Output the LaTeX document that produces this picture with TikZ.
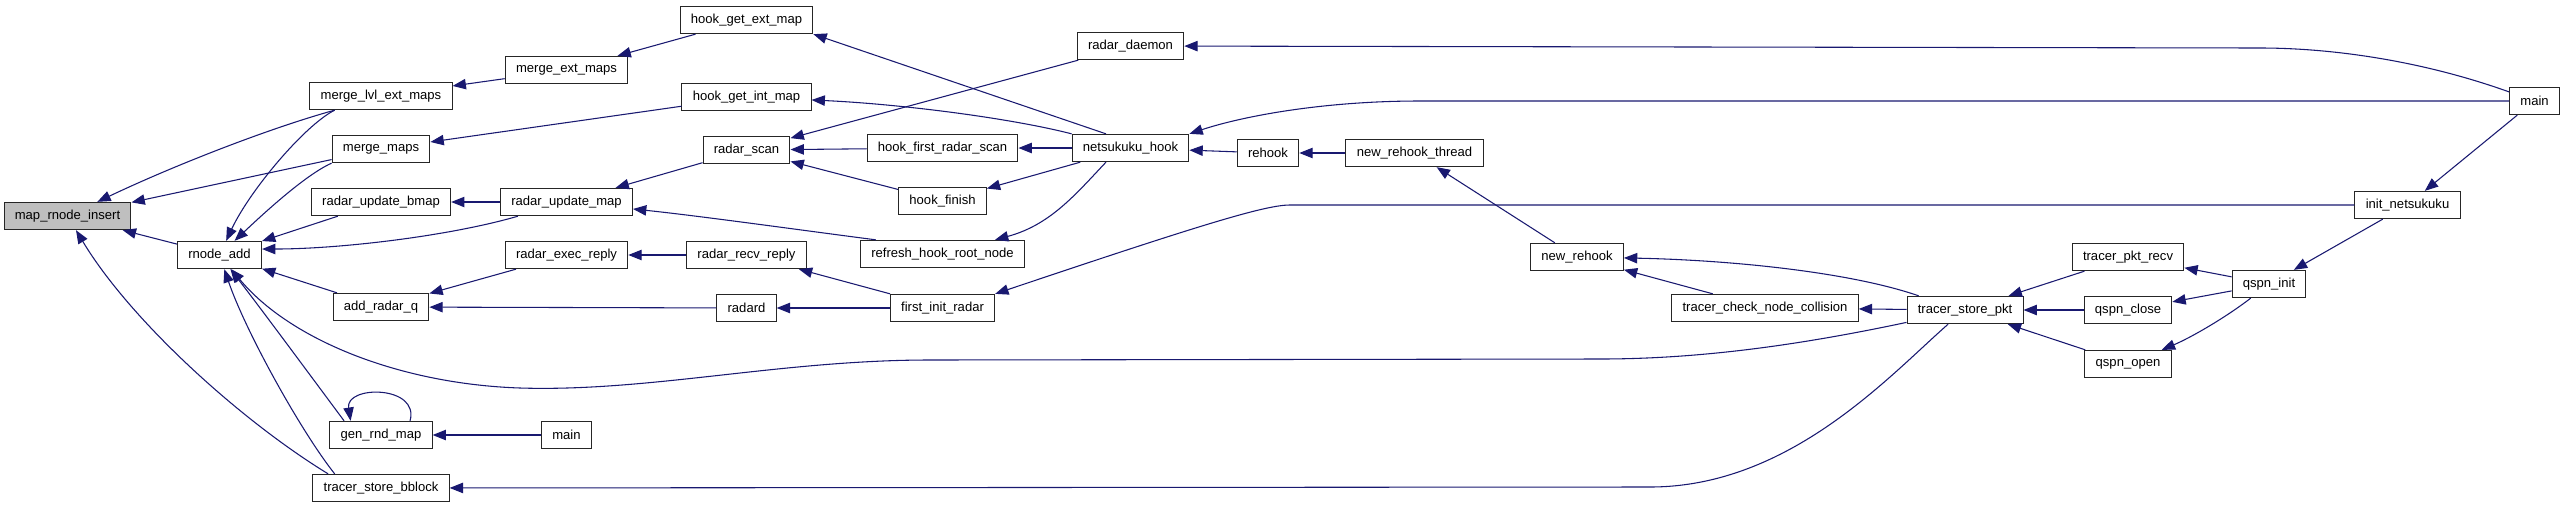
\documentclass[tikz,border=0pt]{standalone}
\usepackage{fontspec}
\setmainfont{Liberation Sans}
\usetikzlibrary{arrows.meta}
\definecolor{callblue}{RGB}{25,25,112}

\begin{document}
\begin{tikzpicture}[x=0.75pt, y=-0.75pt,
 fn/.style={draw=black!85, fill=white, line width=0.75pt, minimum height=20.5pt, inner xsep=8.1pt, inner ysep=0pt, font=\fontsize{9.8}{11}\selectfont},
 call/.style={draw=callblue, line width=0.8pt, -{Triangle[length=10pt, width=7.8pt]}}]
 \useasboundingbox (0,0) rectangle (2565,508);
 \node[fn, fill=black!25] (mri) at (67.5,216){map\_rnode\_insert};
 \node[fn] (ra) at (219.5,255){rnode\_add};
 \node[fn] (mlem) at (381,96){merge\_lvl\_ext\_maps};
 \node[fn] (mm) at (381,149){merge\_maps};
 \node[fn] (rub) at (381,202){radar\_update\_bmap};
 \node[fn] (arq) at (381,307){add\_radar\_q};
 \node[fn] (grm) at (381,435){gen\_rnd\_map};
 \node[fn] (tsb) at (381,488){tracer\_store\_bblock};
 \node[fn] (mem) at (566.5,70){merge\_ext\_maps};
 \node[fn] (rum) at (566.5,202){radar\_update\_map};
 \node[fn] (rer) at (566.5,255){radar\_exec\_reply};
 \node[fn] (mainb) at (566.5,435){main};
 \node[fn] (hgem) at (746.5,20){hook\_get\_ext\_map};
 \node[fn] (hgim) at (746.5,97){hook\_get\_int\_map};
 \node[fn] (rs) at (746.5,150){radar\_scan};
 \node[fn] (rrr) at (746.5,255){radar\_recv\_reply};
 \node[fn] (rdd) at (746.5,308){radard};
 \node[fn] (hfrs) at (942.5,148){hook\_first\_radar\_scan};
 \node[fn] (hf) at (942.5,201){hook\_finish};
 \node[fn] (rhrn) at (942.5,254){refresh\_hook\_root\_node};
 \node[fn] (fir) at (942.5,308){first\_init\_radar};
 \node[fn] (rd) at (1130.5,46){radar\_daemon};
 \node[fn] (nh) at (1130.5,148){netsukuku\_hook};
 \node[fn] (rh) at (1268,153){rehook};
 \node[fn] (nrt) at (1414.5,153){new\_rehook\_thread};
 \node[fn] (nr) at (1577,257){new\_rehook};
 \node[fn] (tcnc) at (1765,308){tracer\_check\_node\_collision};
 \node[fn] (tsp) at (1965,310){tracer\_store\_pkt};
 \node[fn] (tpr) at (2128,257){tracer\_pkt\_recv};
 \node[fn] (qc) at (2128,310){qspn\_close};
 \node[fn] (qo) at (2128,364){qspn\_open};
 \node[fn] (qi) at (2269,284){qspn\_init};
 \node[fn] (inn) at (2407.5,205){init\_netsukuku};
 \node[fn] (maint) at (2534.5,101){main};

 \draw[call] (mlem.197) .. controls (270,128) and (175,165) .. (mri);
 \draw[call] (mlem.197) .. controls (305,125) and (250,190) .. (ra);
 \draw[call] (mm) -- (mri);
 \draw[call] (mm.south west) .. controls (305,175) and (262,215) .. (ra);
 \draw[call] (ra) -- (mri);
 \draw[call] (tsb.165) .. controls (240,420) and (130,320) .. (mri);
 \draw[call] (tsb.163) .. controls (300,430) and (245,330) .. (ra);
 \draw[call] (grm.159) .. controls (310,375) and (262,310) .. (ra);
 \draw[call] (tsp) .. controls (1800,345) and (1700,359) .. (1600,359) -- (930,360) .. controls (780,360) and (650,392) .. (520,388) .. controls (400,384) and (290,340) .. (ra);
 \draw[call] (grm.26) .. controls (420,385) and (345,385) .. (grm.155);
 \draw[call] (mainb) -- (grm);
 \draw[call] (rub) -- (ra);
 \draw[call] (rum) .. controls (450,236) and (340,249) .. (ra.8);
 \draw[call] (arq) -- (ra);
 \draw[call] (rer) -- (arq);
 \draw[call] (rdd) -- (arq);
 \draw[call] (mem) -- (mlem);
 \draw[call] (hgem) -- (mem);
 \draw[call] (hgim) -- (mm);
 \draw[call] (rum) -- (rub);
 \draw[call] (rs) -- (rum);
 \draw[call] (rhrn.168) .. controls (800,230) and (700,216) .. (rum);
 \draw[call] (rrr) -- (rer);
 \draw[call] (fir) -- (rrr);
 \draw[call] (fir) -- (rdd);
 \draw[call] (rd) -- (rs);
 \draw[call] (hfrs) -- (rs);
 \draw[call] (hf) -- (rs);
 \draw[call] (nh.150) -- (hgem.south east);
 \draw[call] (nh.north west) .. controls (1010,118) and (900,104) .. (hgim);
 \draw[call] (nh) -- (hfrs);
 \draw[call] (nh) -- (hf);
 \draw[call] (nh.210) .. controls (1075,195) and (1050,225) .. (rhrn);
 \draw[call] (maint) .. controls (2420,60) and (2330,48) .. (2260,48) -- (rd);
 \draw[call] (maint) -- (1420,101) .. controls (1320,101) and (1240,117) .. (nh.north east);
 \draw[call] (rh) -- (nh);
 \draw[call] (nrt) -- (rh);
 \draw[call] (nr) -- (nrt);
 \draw[call] (tsp.163) .. controls (1850,272) and (1730,260) .. (nr);
 \draw[call] (tcnc) -- (nr);
 \draw[call] (tsp) -- (tcnc);
 \draw[call] (inn) -- (1290,205) .. controls (1265,205) and (1200,225) .. (fir.north east);
 \draw[call] (maint) -- (inn);
 \draw[call] (tsp.220) .. controls (1890,375) and (1790,487) .. (1650,487) -- (tsb);
 \draw[call] (tpr) -- (tsp);
 \draw[call] (qc) -- (tsp);
 \draw[call] (qo) -- (tsp);
 \draw[call] (qi) -- (tpr);
 \draw[call] (qi) -- (qc);
 \draw[call] (qi) .. controls (2225,318) and (2190,338) .. (qo);
 \draw[call] (inn) -- (qi);
\end{tikzpicture}
\end{document}
